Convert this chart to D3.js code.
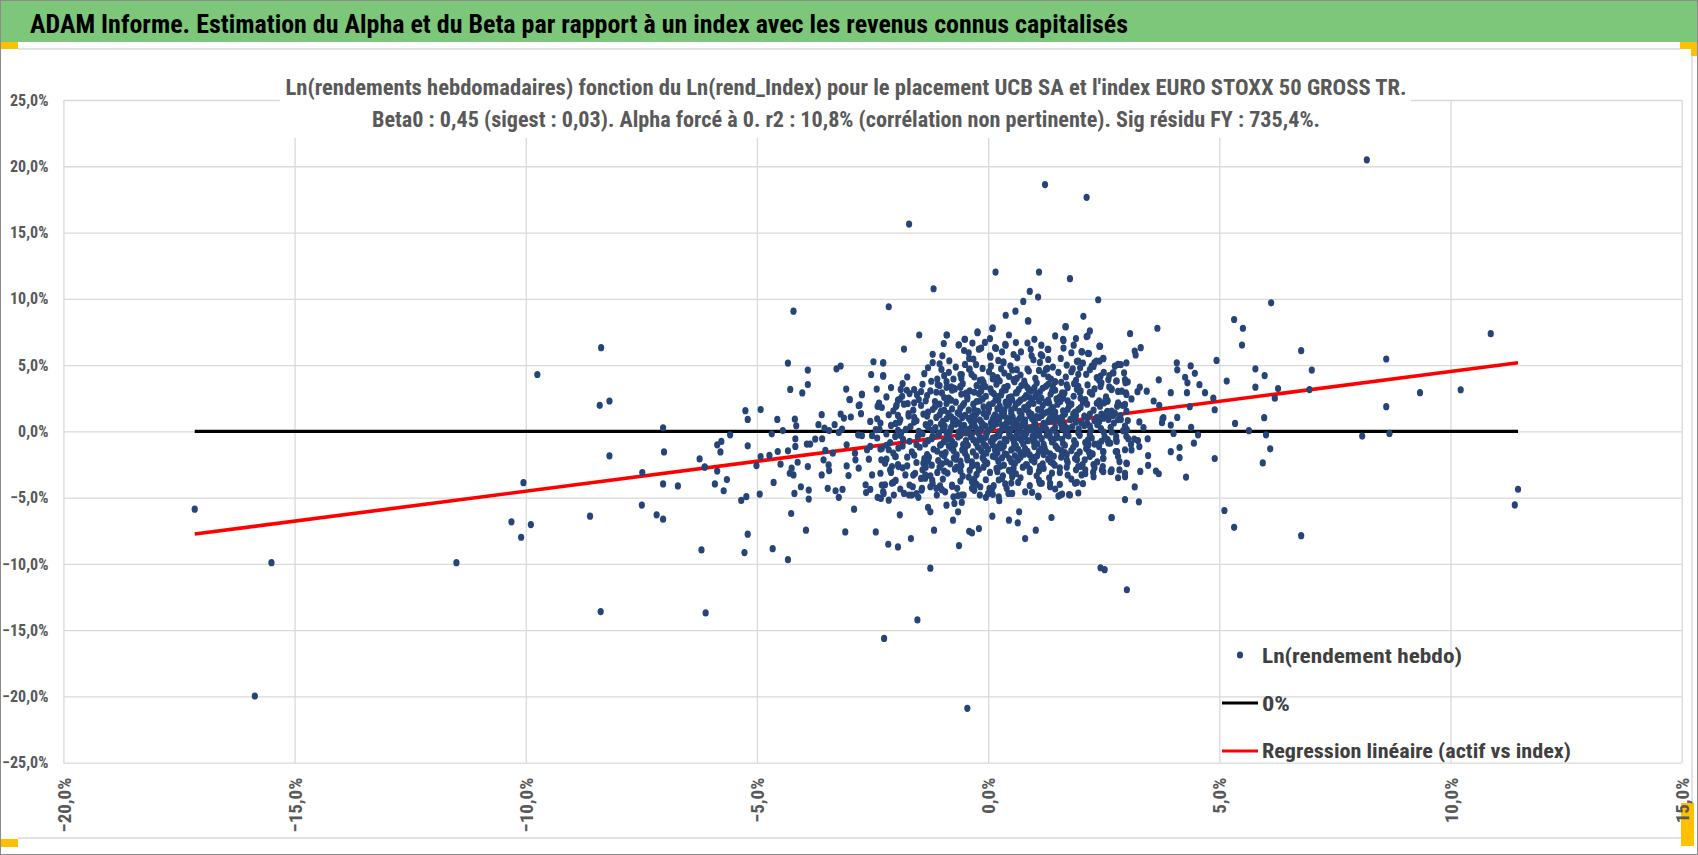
<!DOCTYPE html>
<html><head><meta charset="utf-8">
<script src="https://cdn.jsdelivr.net/npm/d3@7"></script>
<style>body{margin:0;background:#fff}svg{display:block}</style>
</head><body><svg id="c" width="1698" height="855"></svg>
<script>
// ---------- texts ----------
const mainTitle = "ADAM Informe. Estimation du Alpha et du Beta par rapport à un index avec les revenus connus capitalisés";
const chartTitle1 = "Ln(rendements hebdomadaires) fonction du Ln(rend_Index) pour le placement UCB SA et l'index EURO STOXX 50 GROSS TR.";
const chartTitle2 = "Beta0 : 0,45  (sigest : 0,03).  Alpha forcé à 0. r2 : 10,8% (corrélation non pertinente). Sig résidu FY : 735,4%.";
const legendLabels = ["Ln(rendement hebdo)", "0%", "Regression linéaire (actif vs index)"];

// ---------- ticks (percent) ----------
const xTicks = [-20, -15, -10, -5, 0, 5, 10, 15];
const yTicks = [-25, -20, -15, -10, -5, 0, 5, 10, 15, 20, 25];

// ---------- regression line endpoints (percent) ----------
const regressionLine = [[-17.16, -7.75], [11.46, 5.18]];

// ---------- scatter points [index %, asset %] ----------
const outliersLeft = [[-17.16,-5.87],[-15.86,-19.97],[-15.5,-9.91],[-11.5,-9.91],[-10.31,-6.83],[-10.05,-3.87],[-10.1,-7.99],[-9.89,-7.03],[-9.75,4.29],[-8.61,-6.4],[-8.37,6.31],[-8.4,1.96],[-8.19,2.29],[-8.19,-1.85],[-8.38,-13.6],[-7.48,-3.11],[-7.49,-5.56],[-7.17,-6.3],[-7.03,-6.63],[-7.03,0.27],[-7.01,-1.55],[-7.03,-3.97],[-6.71,-4.12],[-6.13,-2.68],[-6.2,-8.95],[-6.11,-13.7],[-6.24,-2.08]];

const outliersTopBottom = [[8.19,20.49],[1.23,18.62],[2.13,17.66],[-1.71,15.64],[0.16,12.02],[1.1,12.02],[1.77,11.52],[-1.18,10.76],[0.9,10.56],[1.08,10.13],[0.76,9.8],[-2.15,9.4],[-4.21,9.07],[-0.45,-20.9],[-2.25,-15.62],[-1.53,-14.23],[-1.25,-10.32],[2.43,-10.29],[2.52,-10.44],[3.0,-11.95],[-0.63,-8.62],[0.8,-8.09]];

const rightSide = [[2.38,9.93],[6.12,9.7],[5.32,8.44],[5.51,7.78],[5.49,6.51],[3.66,7.78],[3.07,7.37],[3.17,6.06],[3.3,6.31],[3.19,5.76],[2.42,6.42],[2.49,5.48],[6.77,6.09],[8.61,5.46],[7.0,4.62],[4.94,5.35],[5.78,4.72],[5.98,4.21],[5.16,3.79],[5.78,3.33],[6.27,3.23],[6.2,2.5],[6.95,3.15],[9.34,2.92],[8.61,1.86],[8.09,-0.36],[8.68,-0.16],[4.87,2.5],[4.9,1.63],[5.34,0.6],[5.64,0.05],[5.97,1.03],[6.01,-0.26],[6.1,-1.32],[5.94,-2.38],[4.9,-2.05],[5.11,-5.97],[5.32,-7.24],[6.77,-7.87],[4.69,2.92],[4.57,3.52],[4.47,4.38],[4.38,4.94],[4.26,4.08],[4.08,5.17],[4.09,4.64],[4.3,2.92],[4.31,3.66],[3.95,2.92],[3.69,3.89],[3.43,3.03],[3.58,2.29],[3.7,1.97],[4.36,1.86],[4.09,1.05],[3.79,1.03],[3.76,0.65],[3.95,0.47],[4.01,-0.16],[4.39,0.3],[4.54,-0.26],[4.45,-0.89],[4.14,-1.22],[3.95,-1.53],[4.14,-1.98],[4.28,-3.45],[3.45,-0.56],[3.46,-1.83],[3.46,-2.56],[3.63,-2.99],[3.69,-3.2],[3.29,-3.02],[3.17,-4.19],[3.26,-5.32],[2.96,-5.15],[2.67,-6.51],[3.0,-2.43],[2.84,-2.28],[2.84,-2.91],[2.81,-3.5],[2.96,-3.42],[2.66,-3.02],[2.49,-3.05],[2.49,-2.04],[2.79,-1.53],[3.1,-1.4],[3.09,-0.98],[3.27,-1.15],[3.24,-0.69],[3.16,-0.58],[3.03,-0.56],[2.92,0.05],[3.0,0.13],[2.67,-0.05],[2.77,-0.63],[2.58,-0.63],[2.64,-0.89],[2.49,-1.55],[2.72,0.63],[2.87,0.89],[3.02,0.81],[3.27,0.71],[3.36,0.28],[3.77,0.94],[2.49,0.99],[2.56,1.39],[2.7,1.19],[2.86,1.19],[2.91,1.95],[2.79,1.9],[2.51,2.15],[2.58,2.33],[2.96,2.03],[2.98,2.91],[2.81,3.01],[2.67,3.21],[3.1,2.45],[3.23,2.99],[3.28,3.33],[3.02,3.74],[2.96,3.91],[2.77,3.79],[2.62,4.21],[2.71,4.41],[2.74,4.92],[2.87,5.04],[2.43,4.16],[2.43,3.38],[2.41,5.3],[10.87,7.37],[10.22,3.14],[11.46,-4.37],[11.39,-5.55]];

const midLeft = [[-5.25,1.56],[-5.2,0.9],[-4.92,1.64],[-5.2,-1.09],[-4.56,0.9],[-4.44,0.06],[-4.68,-0.19],[-4.92,-1.9],[-4.73,-1.82],[-5.01,-2.58],[-4.55,-1.52],[-4.49,-2.48],[-4.33,-1.47],[-4.29,-3.16],[-4.21,-3.29],[-4.25,-2.78],[-4.12,-2.33],[-3.9,-2.66],[-4.05,-4.18],[-4.19,-4.68],[-3.88,-4.43],[-3.88,-5.11],[-4.18,0.92],[-4.15,0.42],[-4.17,-0.56],[-4.17,-1.14],[-3.92,-0.96],[-3.85,-0.96],[-3.74,-0.58],[-3.67,0.5],[-3.6,1.26],[-3.59,-0.56],[-3.52,-1.44],[-3.56,-2.15],[-3.6,-3.29],[-3.45,-2.53],[-3.44,-2.96],[-3.36,-1.65],[-3.47,-4.3],[-3.3,-4.48],[-3.23,-4.98],[-3.15,-4.38],[-3.09,-7.59],[-2.9,-5.87],[-3.54,0.25],[-3.44,0.06],[-3.32,0.5],[-3.23,-0.08],[-3.16,0.17],[-3.19,1.31],[-3.12,1.0],[-2.97,1.08],[-3.0,2.4],[-2.75,1.33],[-2.8,1.94],[-2.73,2.77],[-3.06,-1.01],[-3.06,-2.61],[-3.02,-3.34],[-2.87,-2.15],[-2.88,-1.65],[-2.8,-2.78],[-2.81,-0.26],[-2.73,-0.33],[-2.62,-1.39],[-2.58,-2.1],[-2.65,-4.03],[-2.64,-4.62],[-2.55,-4.38],[-2.51,-3.29],[-2.55,-1.14],[-2.51,-0.33],[-2.43,0.13],[-2.33,0.63],[-2.39,1.89],[-2.36,2.14],[-2.55,0.75],[-2.43,-7.59],[-2.16,-8.52],[-1.95,-8.72],[-1.67,-8.09],[-1.91,-6.3],[-2.39,-4.98],[-2.32,-5.06],[-2.15,-5.19],[-2.27,-4.55],[-2.05,-3.85],[-2.23,-4.03],[-2.33,-3.16],[-2.12,-2.91],[-2.31,-2.15],[-2.33,-1.34],[-2.15,-1.39],[-2.08,-2.66],[-2.01,-1.9],[-1.94,-1.26],[-2.01,-0.38],[-1.95,0.08],[-1.9,0.89],[-1.99,1.89],[-1.86,2.65],[-1.74,2.09],[-1.72,1.33],[-1.71,-4.81],[-1.51,-4.98],[-1.63,-4.18],[-1.44,-4.43],[-1.3,-5.74],[-1.25,-6.07],[-1.17,-7.46],[-0.76,-6.7],[-0.9,-5.57],[-0.73,-5.44],[-0.65,-6.07],[-0.57,-5.36],[-0.41,-7.54],[-0.35,-7.66],[-0.2,-7.33],[0.09,-6.4],[0.24,-5.23],[-0.05,-4.98],[0.0,-4.68],[0.45,-6.7],[0.64,-6.9],[0.67,-6.07],[1.03,-7.46],[1.37,-6.5],[2.67,-6.5],[1.08,-4.88],[0.44,-4.68],[1.52,-4.88],[1.6,-4.73],[1.75,-4.78],[1.12,-3.92],[1.34,-3.92],[1.92,-3.85],[2.02,-3.29],[2.27,-3.09],[2.65,-3.04],[2.48,-2.66],[2.49,-2.03],[2.09,-2.15],[1.92,-2.15],[2.23,-1.7],[2.49,-1.52],[2.76,-1.52],[2.58,-0.63],[2.77,-0.38],[2.3,-0.96],[2.17,-1.01],[2.74,1.38],[2.58,2.27],[0.37,-3.97],[0.52,-3.42],[0.23,-3.67],[0.09,-4.3],[-0.17,-4.18],[-0.28,-3.92],[-0.35,-3.8],[-0.57,-4.81],[-0.67,-4.3],[-0.78,-4.05],[-1.04,-4.12],[-1.12,-4.3],[-1.21,-3.67],[-1.36,-3.29],[-5.34,-5.21],[-5.23,-4.93],[-4.94,-4.73],[-4.64,-3.85],[-5.91,-3.97],[-5.72,-4.48],[-5.65,-3.64],[-5.86,-3.0],[-6.13,-2.71],[-5.79,-1.55],[-5.86,-1.02],[-5.77,-0.76],[-5.58,-0.26],[-5.27,-9.15],[-5.2,-7.76],[-4.66,-8.85],[-4.33,-9.68],[-3.94,-7.46],[-4.26,-6.2],[-4.33,5.15],[-4.28,3.16],[-4.02,2.9],[-3.9,4.62],[-3.9,3.53],[-3.28,4.72],[-3.19,4.93],[-3.07,3.19],[-2.99,2.39],[-2.73,2.81],[-2.78,1.99],[-2.48,5.25],[-2.27,5.17],[-2.53,4.29],[-2.27,4.16],[-2.41,3.19],[-2.37,1.99],[-1.89,3.16],[-1.91,2.44],[-1.76,3.1],[-1.98,1.98],[-1.54,2.77],[-1.23,3.78],[-1.09,3.53],[-0.9,3.32],[-0.75,3.27],[-0.6,3.32],[-0.57,4.29],[-0.13,3.89],[-0.06,3.37]];

const upperCluster = [[0.38,8.76],[0.59,9.07],[0.87,8.33],[2.06,8.68],[1.68,7.9],[2.2,7.58],[2.13,7.15],[-1.49,7.27],[-1.82,6.21],[-0.9,7.27],[-0.96,6.63],[-0.63,6.53],[-0.5,6.94],[-0.52,6.1],[-0.34,6.66],[-0.23,7.44],[-0.07,6.71],[-0.15,6.28],[0.04,7.0],[0.09,7.76],[0.17,6.26],[0.45,7.27],[0.38,6.5],[0.71,5.99],[0.85,6.66],[1.0,6.94],[1.3,6.18],[1.63,6.86],[1.63,6.28],[2.03,5.99],[2.18,5.87],[2.41,6.41],[-1.2,5.81],[-1.2,5.19],[-0.99,5.7],[-0.84,5.32],[-1.01,4.67],[-0.41,5.5],[-0.41,4.68],[-0.6,4.29],[-0.26,5.04],[0.04,5.7],[0.06,4.92],[0.33,5.18],[0.52,4.63],[0.94,5.7],[1.17,5.7],[1.3,5.42],[1.25,4.67],[1.92,5.28],[1.99,4.79],[2.3,5.18],[2.49,5.5],[-2.27,5.17],[-2.27,4.21],[-0.89,7.27],[-0.64,6.51],[-0.51,6.94],[-0.42,5.93],[-0.23,7.5],[0.1,7.8],[0.15,6.31],[0.37,6.56],[0.33,5.25],[0.86,8.33],[0.92,6.19],[1.14,5.8],[1.29,6.19],[1.67,7.9],[1.62,6.94],[1.8,5.93],[2.15,7.2],[2.41,6.44],[2.02,6.01],[2.16,5.88],[1.95,5.3],[2.34,5.3],[2.24,4.92],[2.81,5.05],[2.99,5.17],[2.7,4.42],[2.94,4.42],[2.6,3.91],[2.78,3.79],[2.97,3.66],[2.67,3.15],[2.89,3.03],[2.54,2.4],[2.81,2.15],[2.99,2.78],[2.99,1.52],[2.67,1.52],[2.81,0.89],[2.6,0.89],[2.96,0.39],[2.99,-0.37],[2.78,-0.76],[2.6,-0.88],[2.96,-1.39],[2.81,-1.9],[2.99,-2.4],[2.67,-2.91],[2.96,-3.17],[2.46,-2.91],[2.28,-3.42],[2.1,-2.91],[1.95,-2.66],[1.88,-3.92],[1.77,-4.81],[1.56,-4.81],[1.34,-4.18],[1.16,-3.92],[1.09,-4.94],[0.8,-4.56],[0.52,-4.68],[0.23,-4.94],[0.03,-4.3],[-0.18,-4.81],[-0.35,-4.3],[-0.53,-4.81],[-0.75,-4.94],[-0.93,-4.56],[-1.11,-4.81],[-1.25,-4.18],[-1.43,-4.3],[-1.65,-4.81],[-1.82,-4.68],[-2.04,-4.81],[-2.26,-4.68],[-2.08,-3.92],[-2.3,-4.05],[-1.79,-3.29],[-1.58,-3.17],[-1.36,-3.54],[-1.94,-2.66],[-2.23,-2.4],
[0.3,6.0],[0.6,6.7],[1.15,6.5],[1.45,7.2],[1.85,6.5],[0.55,5.8],[-0.2,6.2],[1.9,7.0]];

const coreA = [[-1.05,5.1],[-0.7,4.85],[-0.32,5.45],[-0.12,4.75],[0.22,5.35],[0.48,4.95],[0.63,5.55],[0.85,4.7],[1.12,5.2],[1.4,4.85],[1.57,5.5],[1.83,4.72],[2.05,5.15],[2.28,4.9],[-0.5,5.05],[0.05,5.6],[0.98,5.4],[1.7,5.0],
[-1.75,4.1],[-1.38,4.35],[-1.1,3.95],[-0.85,4.45],[-0.58,4.0],[-0.36,4.3],[-0.18,3.85],[0.02,4.5],[0.2,4.05],[0.35,4.4],[0.55,3.9],[0.7,4.25],[0.88,4.55],[1.02,4.0],[1.2,4.35],[1.36,3.95],[1.52,4.45],[1.68,4.1],[1.9,3.85],[2.12,4.3],[2.35,4.05],[2.5,4.45],[-0.95,4.2],[0.45,4.15],[1.1,4.6],[1.8,4.5],
[-0.4,4.7],[0.1,4.2],[0.62,4.65],[1.28,4.75],[1.95,4.3],[2.2,4.65],[-1.3,4.8],[-0.75,3.95],[0.28,4.72],[0.78,3.8],[1.45,3.75],[2.4,3.85],
[-2.1,3.3],[-1.85,3.6],[-1.6,3.15],[-1.42,3.55],[-1.25,3.05],[-1.05,3.45],[-0.9,3.75],[-0.72,3.2],[-0.55,3.6],[-0.4,3.05],[-0.25,3.45],[-0.1,3.7],[0.05,3.2],[0.18,3.55],[0.3,3.0],[0.42,3.4],[0.57,3.75],[0.66,3.15],[0.8,3.5],[0.93,3.05],[1.05,3.65],[1.18,3.25],[1.3,3.55],[1.45,3.1],[1.58,3.7],[1.72,3.3],[1.86,3.6],[2.0,3.05],[2.15,3.5],[2.3,3.2],[2.45,3.65],[2.62,3.35],[-0.8,3.35],[0.25,3.8],[0.72,3.45],[1.0,3.3],[1.4,3.45],[1.95,3.4],
[-1.45,3.0],[-1.12,2.95],[-0.78,3.1],[-0.48,2.88],[-0.15,3.05],[0.12,2.85],[0.38,3.12],[0.62,2.92],[0.88,3.15],[1.12,2.98],[1.38,3.05],[1.65,2.88],[1.92,3.18],[2.2,2.95],
[-2.2,2.6],[-1.95,2.35],[-1.7,2.85],[-1.5,2.4],[-1.32,2.7],[-1.15,2.25],[-1.0,2.9],[-0.85,2.5],[-0.7,2.2],[-0.58,2.8],[-0.45,2.45],[-0.3,2.95],[-0.18,2.3],[-0.05,2.65],[0.08,2.95],[0.16,2.4],[0.28,2.75],[0.38,2.2],[0.5,2.6],[0.6,2.9],[0.7,2.35],[0.82,2.7],[0.95,2.25],[1.05,2.85],[1.15,2.5],[1.25,2.2],[1.35,2.8],[1.48,2.45],[1.6,2.9],[1.72,2.3],[1.85,2.65],[1.98,2.95],[2.1,2.4],[2.25,2.8],[2.4,2.3],[2.55,2.6],[-0.95,2.55],[-0.2,2.85],[0.45,2.55],[0.9,2.55],[1.55,2.6],[2.0,2.5],
[-1.6,2.15],[-1.35,2.3],[-1.05,2.05],[-0.8,2.35],[-0.52,2.1],[-0.25,2.25],[0.02,2.0],[0.22,2.32],[0.45,2.08],[0.66,2.2],[0.88,2.02],[1.1,2.3],[1.32,2.12],[1.56,2.25],[1.8,2.05],[2.05,2.2],[2.35,2.12]];

const coreB = [[-2.3,1.8],[-2.05,1.55],[-1.82,2.05],[-1.62,1.6],[-1.45,1.95],[-1.3,1.45],[-1.15,1.85],[-1.02,1.5],[-0.9,2.1],[-0.78,1.7],[-0.66,1.4],[-0.55,1.95],[-0.42,1.6],[-0.32,2.05],[-0.22,1.5],[-0.1,1.85],[0.0,1.45],[0.1,2.1],[0.2,1.7],[0.3,1.42],[0.4,1.95],[0.5,1.6],[0.6,2.05],[0.68,1.5],[0.78,1.8],[0.88,1.45],[0.98,2.1],[1.08,1.65],[1.18,1.95],[1.28,1.45],[1.4,1.8],[1.5,2.05],[1.62,1.55],[1.75,1.9],[1.88,1.45],[2.0,1.8],[2.14,2.05],[2.28,1.6],[2.42,1.9],[2.58,1.5],[-0.6,1.75],[0.25,1.9],[0.82,1.65],[1.35,1.6],[1.95,1.65],[-1.2,1.65],
[-1.95,1.2],[-1.6,1.05],[-1.32,1.15],[-1.05,1.25],[-0.8,1.1],[-0.56,1.05],[-0.34,1.15],[-0.1,1.35],[0.12,1.08],[0.32,1.18],[0.5,1.35],[0.72,1.1],[0.94,1.28],[1.16,1.2],[1.38,1.35],[1.6,1.1],[1.84,1.3],[2.08,1.15],[2.35,1.05],
[-2.4,0.95],[-2.15,1.25],[-1.92,0.7],[-1.72,1.15],[-1.55,0.8],[-1.4,1.3],[-1.25,0.65],[-1.12,1.05],[-0.98,0.75],[-0.86,1.35],[-0.74,0.9],[-0.62,0.62],[-0.5,1.2],[-0.38,0.8],[-0.26,1.3],[-0.15,0.7],[-0.04,1.1],[0.06,0.65],[0.15,1.25],[0.24,0.9],[0.34,1.35],[0.44,0.7],[0.53,1.1],[0.62,0.62],[0.72,1.3],[0.8,0.85],[0.9,1.2],[1.0,0.65],[1.1,1.05],[1.2,1.35],[1.3,0.75],[1.42,1.15],[1.55,0.7],[1.66,1.3],[1.78,0.9],[1.9,1.2],[2.02,0.65],[2.15,1.05],[2.3,0.8],[2.45,1.3],[2.6,0.95],[-0.9,0.95],[-0.3,0.95],[0.4,1.0],[0.95,0.95],[1.5,1.0],[2.2,1.3],[0.1,0.9],[0.68,0.98],
[-2.0,0.6],[-1.6,0.7],[-1.3,0.3],[-1.02,0.55],[-0.76,0.7],[-0.52,0.45],[-0.3,0.72],[-0.06,0.4],[0.14,0.75],[0.38,0.55],[0.6,0.8],[0.8,0.52],[1.0,0.8],[1.2,0.6],[1.4,0.78],[1.65,0.45],[1.9,0.7],[2.14,0.6],[2.4,0.72],
[-2.35,0.15],[-2.1,0.45],[-1.88,-0.1],[-1.68,0.35],[-1.5,0.0],[-1.35,0.5],[-1.2,0.1],[-1.06,-0.15],[-0.94,0.4],[-0.82,0.05],[-0.7,0.55],[-0.58,0.2],[-0.46,-0.12],[-0.35,0.42],[-0.24,0.1],[-0.12,0.55],[-0.02,-0.05],[0.08,0.3],[0.18,0.58],[0.27,0.0],[0.36,0.35],[0.46,-0.15],[0.55,0.5],[0.64,0.15],[0.74,0.45],[0.83,-0.1],[0.92,0.25],[1.02,0.55],[1.12,0.05],[1.22,0.4],[1.33,-0.12],[1.45,0.3],[1.58,0.55],[1.7,0.0],[1.82,0.35],[1.95,-0.1],[2.08,0.45],[2.22,0.1],[2.36,0.5],[2.5,-0.05],[2.65,0.3],[-0.8,0.3],[-0.15,0.22],[0.5,0.18],[1.05,0.2],[1.6,0.2],[2.2,0.4],[0.3,0.45],[0.7,0.05],
[-2.2,-0.2],[-1.78,0.15],[-1.42,-0.2],[-1.14,0.28],[-0.9,-0.1],[-0.64,-0.05],[-0.42,0.15],[-0.2,-0.18],[0.02,0.12],[0.22,-0.2],[0.42,0.1],[0.62,-0.18],[0.84,0.12],[1.04,-0.22],[1.26,0.15],[1.48,-0.2],[1.72,0.22],[1.96,0.18],[2.2,-0.22],[2.44,0.2]];

const coreC = [[-2.4,-0.5],[-2.12,-0.85],[-1.9,-0.3],[-1.7,-0.75],[-1.52,-0.4],[-1.36,-0.95],[-1.22,-0.55],[-1.08,-0.25],[-0.96,-0.8],[-0.84,-0.45],[-0.72,-0.98],[-0.6,-0.3],[-0.48,-0.7],[-0.37,-0.4],[-0.26,-0.9],[-0.14,-0.5],[-0.04,-0.25],[0.06,-0.75],[0.16,-0.45],[0.26,-0.95],[0.36,-0.6],[0.46,-0.3],[0.56,-0.85],[0.66,-0.5],[0.76,-0.22],[0.86,-0.7],[0.96,-0.4],[1.06,-0.95],[1.16,-0.55],[1.27,-0.28],[1.38,-0.8],[1.5,-0.45],[1.62,-0.92],[1.74,-0.35],[1.86,-0.7],[1.98,-0.3],[2.1,-0.85],[2.24,-0.5],[2.38,-0.95],[2.52,-0.4],[-0.9,-0.6],[-0.2,-0.65],[0.4,-0.7],[1.0,-0.6],[1.6,-0.6],[0.1,-0.5],[0.72,-0.68],
[-2.2,-1.05],[-1.84,-0.6],[-1.55,-1.0],[-1.3,-0.7],[-1.02,-1.0],[-0.78,-0.75],[-0.54,-1.0],[-0.32,-0.65],[-0.1,-0.95],[0.12,-0.6],[0.34,-1.1],[0.54,-0.6],[0.76,-0.95],[0.98,-0.78],[1.2,-0.98],[1.42,-0.62],[1.66,-1.05],[1.9,-0.95],[2.16,-0.65],[2.45,-0.75],
[-2.3,-1.3],[-2.05,-1.65],[-1.85,-1.1],[-1.65,-1.55],[-1.48,-1.2],[-1.32,-1.75],[-1.18,-1.35],[-1.04,-1.05],[-0.92,-1.6],[-0.8,-1.25],[-0.68,-1.78],[-0.56,-1.4],[-0.44,-1.05],[-0.33,-1.55],[-0.22,-1.2],[-0.1,-1.7],[0.0,-1.35],[0.1,-1.02],[0.2,-1.6],[0.3,-1.25],[0.4,-1.75],[0.5,-1.4],[0.6,-1.08],[0.7,-1.6],[0.8,-1.3],[0.9,-1.78],[1.0,-1.15],[1.1,-1.5],[1.22,-1.25],[1.34,-1.7],[1.46,-1.1],[1.58,-1.45],[1.7,-1.75],[1.84,-1.2],[1.98,-1.55],[2.12,-1.3],[2.26,-1.7],[2.4,-1.15],[-0.75,-1.45],[0.15,-1.4],[0.65,-1.35],[1.25,-1.5],[-0.05,-1.1],
[-2.0,-1.9],[-1.6,-1.8],[-1.28,-1.95],[-1.0,-1.72],[-0.74,-2.0],[-0.5,-1.65],[-0.26,-1.85],[-0.04,-1.65],[0.16,-1.95],[0.36,-1.7],[0.58,-1.85],[0.78,-1.72],[0.98,-1.98],[1.2,-1.75],[1.42,-1.88],[1.66,-1.6],[1.92,-1.8],[2.18,-1.55],
[-2.2,-2.1],[-1.95,-2.5],[-1.75,-1.95],[-1.55,-2.35],[-1.38,-2.05],[-1.22,-2.55],[-1.08,-2.2],[-0.95,-1.85],[-0.82,-2.45],[-0.7,-2.1],[-0.58,-2.58],[-0.46,-1.9],[-0.35,-2.3],[-0.24,-2.55],[-0.12,-2.0],[-0.02,-2.4],[0.1,-1.88],[0.22,-2.25],[0.34,-2.55],[0.46,-2.05],[0.58,-2.4],[0.7,-1.95],[0.82,-2.5],[0.94,-2.15],[1.06,-1.85],[1.18,-2.45],[1.3,-2.1],[1.44,-2.55],[1.58,-1.95],[1.72,-2.35],[1.88,-2.05],[2.04,-2.5],[2.2,-1.9],[2.36,-2.3],[-0.6,-2.25],[0.5,-2.3],[1.0,-2.3],[-1.4,-2.4],
[-1.75,-2.6],[-1.35,-2.7],[-1.0,-2.45],[-0.68,-2.7],[-0.35,-2.62],[-0.05,-2.45],[0.26,-2.65],[0.55,-2.78],[0.84,-2.55],[1.12,-2.65],[1.4,-2.4],[1.7,-2.7],[2.0,-2.65],[2.28,-2.5],
[-2.1,-3.1],[-1.85,-2.75],[-1.62,-3.3],[-1.42,-2.9],[-1.25,-3.35],[-1.05,-2.7],[-0.88,-3.15],[-0.72,-2.85],[-0.55,-3.38],[-0.4,-2.95],[-0.25,-3.25],[-0.1,-2.7],[0.04,-3.1],[0.18,-2.8],[0.32,-3.35],[0.45,-2.95],[0.6,-3.2],[0.75,-2.7],[0.9,-3.05],[1.05,-3.35],[1.2,-2.8],[1.38,-3.15],[1.55,-2.75],[1.72,-3.3],[1.9,-2.9],[2.1,-3.2],[2.3,-2.75],[-0.95,-3.0],[0.2,-3.05],[0.9,-2.85],
[-2.0,-3.7],[-1.7,-4.05],[-1.45,-3.55],[-1.2,-3.95],[-0.98,-3.6],[-0.78,-4.15],[-0.6,-3.75],[-0.42,-3.45],[-0.25,-4.0],[-0.05,-3.65],[0.12,-4.1],[0.3,-3.55],[0.5,-3.9],[0.7,-3.5],[0.9,-4.1],[1.1,-3.7],[1.32,-3.5],[1.55,-4.0],[1.8,-3.6],[2.05,-3.95],[-0.3,-3.6],[0.65,-3.85],
[-1.9,-4.35],[-1.55,-4.7],[-1.0,-4.4],[-0.65,-4.85],[-0.3,-4.45],[0.4,-4.3],[0.95,-4.6],[1.45,-4.35],[1.95,-4.65],[0.1,-4.75]];

const coreD = [[-0.45,2.6],[-0.12,2.45],[0.2,2.62],[0.52,2.38],[0.78,2.5],[1.02,2.62],[1.3,2.35],[1.62,2.5],
[-0.62,1.3],[-0.3,1.62],[0.02,1.75],[0.35,1.62],[0.58,1.78],[0.86,1.92],[1.15,1.55],[1.45,1.45],[1.72,1.65],[-0.95,1.6],
[-0.7,0.82],[-0.42,0.98],[-0.18,0.85],[0.2,1.1],[0.47,0.88],[0.76,0.7],[1.05,1.12],[1.33,0.95],[1.6,0.85],[1.84,1.02],
[-0.55,0.1],[-0.28,0.32],[0.12,0.45],[0.4,0.22],[0.68,0.32],[0.95,0.08],[1.18,0.28],[1.4,0.1],[1.65,0.4],[-0.98,0.2],
[-0.65,-0.42],[-0.35,-0.2],[-0.05,-0.45],[0.24,-0.35],[0.52,-0.48],[0.8,-0.4],[1.1,-0.3],[1.35,-0.5],[1.68,-0.25],[-1.2,-0.35],
[-0.85,-1.1],[-0.5,-1.25],[-0.15,-1.45],[0.22,-1.15],[0.55,-1.25],[0.85,-1.5],[1.15,-1.32],[1.5,-1.28],[1.8,-1.45],[-1.1,-1.5],
[-0.9,-2.3],[-0.45,-2.15],[-0.08,-2.2],[0.3,-2.0],[0.65,-2.15],[1.0,-2.05],[1.35,-2.3],[1.7,-2.15],[-1.3,-2.25],
[-0.6,-3.0],[-0.2,-2.9],[0.5,-3.08],[1.1,-3.0],[1.55,-3.1],[-1.1,-3.1],
[-0.15,3.3],[0.35,3.3],[0.85,3.3],[1.25,3.4],[1.7,3.5],[-0.6,3.4],[0.1,3.95],[0.62,4.0],[1.3,4.1],[-0.3,4.1]];

const points = [].concat(outliersLeft, outliersTopBottom, rightSide, midLeft, upperCluster, coreA, coreB, coreC, coreD);

// ---------- layout ----------
const W = 1698, H = 855;
const plot = {left: 63.4, right: 1681.7, top: 100, bottom: 762.7};
const NARROW = "'Liberation Sans Narrow','Arial Narrow','Roboto Condensed','DejaVu Sans Condensed',sans-serif";
const fmt = v => d3.format(".1f")(v).replace(".", ",") + "%";

const svg = d3.select("#c");
const x = d3.scaleLinear().domain([-20, 15]).range([plot.left, plot.right]);
const y = d3.scaleLinear().domain([-25, 25]).range([plot.bottom, plot.top]);

// background
svg.append("rect").attr("width", W).attr("height", H).attr("fill", "#fff");

// selection handles (orange), drawn under texts
const handles = [[0, 42, 18, 7], [1680, 42, 18, 7], [1691, 42, 7, 14], [0, 839, 18, 8], [1681, 803, 13, 43]];
svg.append("g").selectAll("rect").data(handles).join("rect")
  .attr("x", d => d[0]).attr("y", d => d[1]).attr("width", d => d[2]).attr("height", d => d[3]).attr("fill", "#ffc000");

// header bar
svg.append("rect").attr("x", 0).attr("y", 0).attr("width", W).attr("height", 42).attr("fill", "#7dc77b");
svg.append("text").attr("x", 30).attr("y", 33)
  .attr("font-family", NARROW).attr("font-weight", "bold").attr("font-size", 26)
  .attr("textLength", 1098).attr("lengthAdjust", "spacingAndGlyphs")
  .attr("fill", "#000").text(mainTitle);

// chart area frame lines
svg.append("line").attr("x1", 18).attr("x2", 1680).attr("y1", 49).attr("y2", 49).attr("stroke", "#d9d9d9").attr("stroke-width", 1.5);
svg.append("line").attr("x1", 1692).attr("x2", 1692).attr("y1", 56).attr("y2", 803).attr("stroke", "#d9d9d9").attr("stroke-width", 1.5);
svg.append("line").attr("x1", 18).attr("x2", 1681).attr("y1", 838).attr("y2", 838).attr("stroke", "#d9d9d9").attr("stroke-width", 1.5);

// y axis + horizontal gridlines
const gy = svg.append("g").attr("transform", `translate(${plot.left},0)`)
  .call(d3.axisLeft(y).tickValues(yTicks).tickSize(-(plot.right - plot.left)).tickPadding(15).tickFormat(fmt));
gy.select(".domain").remove();
gy.selectAll("line").attr("stroke", "#d9d9d9").attr("stroke-width", 1.3);
gy.selectAll("text").attr("font-family", NARROW).attr("font-weight", "bold").attr("font-size", 16).attr("fill", "#595959");

// x axis + vertical gridlines
const gx = svg.append("g").attr("transform", `translate(0,${plot.bottom})`)
  .call(d3.axisBottom(x).tickValues(xTicks).tickSize(-(plot.bottom - plot.top)).tickFormat(fmt));
gx.select(".domain").remove();
gx.selectAll("line").attr("stroke", "#d9d9d9").attr("stroke-width", 1.3);
gx.selectAll("text")
  .attr("transform", "rotate(-90)")
  .attr("x", -15).attr("y", 0).attr("dy", "0.35em")
  .attr("text-anchor", "end")
  .attr("font-family", NARROW).attr("font-weight", "bold").attr("font-size", 19).attr("fill", "#595959");

// chart title box (covers gridlines)
svg.append("rect").attr("x", 280).attr("y", 62).attr("width", 1131).attr("height", 76).attr("fill", "#fff");
svg.append("text").attr("x", 846).attr("y", 95).attr("text-anchor", "middle")
  .attr("font-family", NARROW).attr("font-weight", "bold").attr("font-size", 22).attr("fill", "#595959")
  .attr("textLength", 1121).attr("lengthAdjust", "spacingAndGlyphs").text(chartTitle1);
svg.append("text").attr("x", 846).attr("y", 127).attr("text-anchor", "middle")
  .attr("font-family", NARROW).attr("font-weight", "bold").attr("font-size", 22).attr("fill", "#595959")
  .attr("textLength", 948).attr("lengthAdjust", "spacingAndGlyphs").text(chartTitle2);

// 0% line and regression line
const xExt = d3.extent(points, d => d[0]);
const zeroLine = [[xExt[0], 0], [xExt[1], 0]];
const lineGen = d3.line().x(d => x(d[0])).y(d => y(d[1]));
svg.append("path").datum(zeroLine).attr("d", lineGen).attr("stroke", "#000").attr("stroke-width", 3.2).attr("fill", "none");
svg.append("path").datum(regressionLine).attr("d", lineGen).attr("stroke", "#ff0000").attr("stroke-width", 3.6).attr("fill", "none");

// scatter
svg.append("g").selectAll("ellipse").data(points).join("ellipse")
  .attr("cx", d => x(d[0])).attr("cy", d => y(d[1]))
  .attr("rx", 3.1).attr("ry", 3.6).attr("fill", "#264478");

// legend
const lg = svg.append("g");
lg.append("ellipse").attr("cx", 1240).attr("cy", 655).attr("rx", 3.1).attr("ry", 3.6).attr("fill", "#264478");
lg.append("line").attr("x1", 1222).attr("x2", 1258).attr("y1", 703).attr("y2", 703).attr("stroke", "#000").attr("stroke-width", 3.2);
lg.append("line").attr("x1", 1222).attr("x2", 1258).attr("y1", 751).attr("y2", 751).attr("stroke", "#ff0000").attr("stroke-width", 3.2);
const legendY = [663, 711, 758];
const legendW = [200, 28, 309];
legendLabels.forEach((t, i) => {
  lg.append("text").attr("x", 1262).attr("y", legendY[i])
    .attr("font-family", NARROW).attr("font-weight", "bold").attr("font-size", 21).attr("fill", "#404040")
    .attr("textLength", legendW[i]).attr("lengthAdjust", "spacingAndGlyphs").text(t);
});

// outer border
svg.append("rect").attr("x", 0.5).attr("y", 0.5).attr("width", W - 1).attr("height", H - 1)
  .attr("fill", "none").attr("stroke", "#8c8c8c").attr("stroke-width", 1);
</script></body></html>
